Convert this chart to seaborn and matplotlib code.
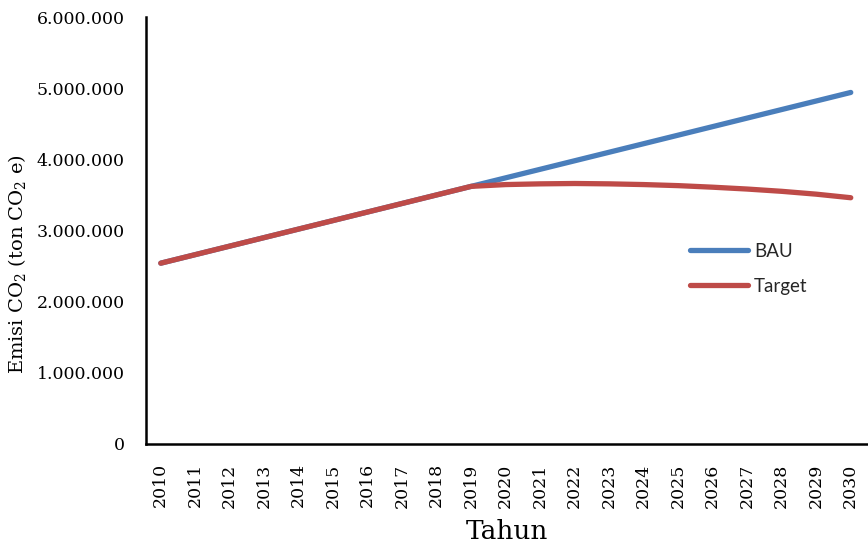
import matplotlib
matplotlib.use("Agg")
import matplotlib.pyplot as plt
import matplotlib.ticker as mticker
import seaborn as sns
import pandas as pd

years = list(range(2010, 2031))
bau = [2540000, 2660000, 2780000, 2900000, 3020000, 3140000, 3260000,
       3380000, 3500000, 3620000, 3740000, 3860000, 3980000, 4100000,
       4220000, 4340000, 4460000, 4580000, 4700000, 4820000, 4940000]
target = [2540000, 2660000, 2780000, 2900000, 3020000, 3140000, 3260000,
          3380000, 3500000, 3620000, 3645000, 3655000, 3660000, 3655000,
          3645000, 3630000, 3608000, 3582000, 3550000, 3510000, 3460000]
series_names = ["BAU", "Target"]
colors = ["#4A7EBB", "#BE4B48"]

idx = list(range(len(years)))
df = pd.DataFrame({
    "idx": idx * 2,
    "value": bau + target,
    "series": [series_names[0]] * len(years) + [series_names[1]] * len(years),
})

sns.set_theme(style="white")
plt.rcParams["font.family"] = ["DejaVu Serif"]
plt.rcParams["mathtext.fontset"] = "dejavuserif"

fig = plt.figure(figsize=(8.68, 5.5), dpi=100)
ax = fig.add_axes([0.168, 0.193, 0.832, 0.776])

sns.lineplot(data=df, x="idx", y="value", hue="series",
             palette=dict(zip(series_names, colors)), linewidth=3.8,
             ax=ax, legend=False, solid_capstyle="round")

ax.set_xlim(-0.434, 20.5)
ax.set_ylim(0, 6000000)
ax.set_xticks(idx)
ax.set_xticklabels([str(y) for y in years], rotation=90)
ax.yaxis.set_major_locator(mticker.MultipleLocator(1000000))
ax.yaxis.set_major_formatter(
    mticker.FuncFormatter(lambda v, p: f"{int(v):,}".replace(",", ".")))

for side in ["top", "right"]:
    ax.spines[side].set_visible(False)
for side in ["left", "bottom"]:
    ax.spines[side].set_color("black")
    ax.spines[side].set_linewidth(1.8)

ax.tick_params(axis="both", length=0, labelsize=12.5, colors="black")
ax.tick_params(axis="y", pad=15)
ax.tick_params(axis="x", pad=14)

ax.set_xlabel("Tahun", fontsize=19, color="black", labelpad=8)
ax.set_ylabel("Emisi CO$_2$ (ton CO$_2$ e)", fontsize=14, color="black")
ax.yaxis.set_label_coords(-0.163, 0.4215)

handles = [plt.Line2D([], [], color=c, linewidth=3.8, solid_capstyle="round")
           for c in colors]
ax.legend(handles, series_names, loc="upper left",
          bbox_to_anchor=(690 / 868, 1 - 243 / 550),
          bbox_transform=fig.transFigure, frameon=False,
          prop={"family": "Lato", "size": 13.5},
          handlelength=3.1, handletextpad=0.3, labelspacing=0.95,
          borderpad=0, borderaxespad=0)

fig.savefig("out.png", dpi=100)
